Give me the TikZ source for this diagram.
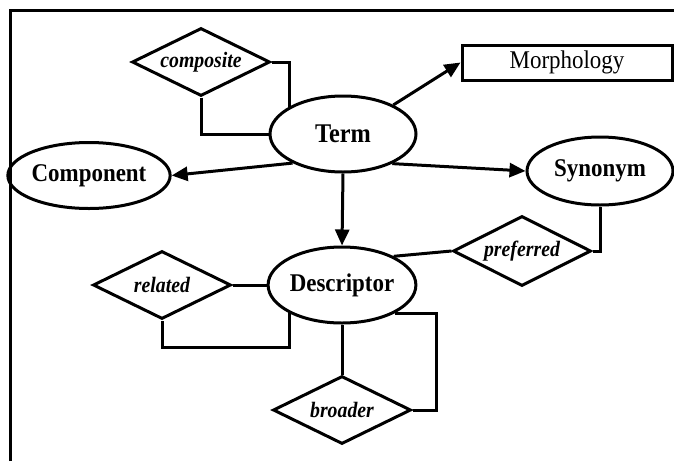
\documentclass[tikz,border=0pt]{standalone}
\usepackage{fontspec}
\setmainfont{Liberation Serif}
\newfontfamily\narrowserif[FakeStretch=0.9]{Liberation Serif}
\usetikzlibrary{shapes.geometric,arrows.meta}
\begin{document}
\begin{tikzpicture}[x=1pt,y=-1pt,line width=3pt,
  entity/.style={draw,ellipse,inner sep=0pt,minimum width=146pt,minimum height=72pt,
    font=\narrowserif\fontsize{25.5}{25.5}\selectfont\bfseries},
  relation/.style={draw,diamond,aspect=2.03,inner sep=0pt,minimum width=138pt,minimum height=68pt,
    font=\narrowserif\fontsize{22}{22}\selectfont\bfseries\itshape},
  plainbox/.style={draw,rectangle,inner sep=0pt,minimum width=210pt,minimum height=35pt,
    font=\narrowserif\fontsize{25.5}{25.5}\selectfont},
  link/.style={line join=miter},
  arr/.style={-{Triangle[length=16pt,width=14pt]}}]
  \useasboundingbox (0,0) rectangle (674,461);
  % open frame along the top and left
  \draw (10,461) -- (10,10) -- (674,10);

  % entities
  \node[entity,minimum height=76pt,font=\narrowserif\fontsize{27}{27}\selectfont\bfseries] (term) at (343,134) {Term};
  \node[entity,minimum height=66pt] (cpt) at (89,175.5) {Component};
  \node[entity,minimum height=68pt] (syn) at (600,171) {Synonym};
  \node[entity,minimum height=76pt] (desc) at (342,285) {Descriptor};
  \node[plainbox] (morph) at (567,62.5) {Morphology};

  % relationships
  \node[relation] (compo) at (201,62) {composite};
  \node[relation] (rel) at (162,285) {related};
  \node[relation] (broad) at (342,410) {broader};
  \node[relation,minimum height=70pt] (pref) at (522,251) {preferred};

  % arrows leaving Term
  \draw[arr] (term.210) -- (cpt.east);
  \draw[arr] (term.329) -- (syn.west);
  \draw[arr] (term.30) -- (morph.west);
  \draw[arr] (term.south) -- (desc.north);

  % composite loop on Term
  \draw[link] (compo.east) -| (term.153);
  \draw[link] (compo.south) |- (term.west);

  % related loop on Descriptor
  \draw[link] (rel.east) -- (desc.west);
  \draw[link] (desc.208) -- ++(0,34) -| (rel.south);

  % broader loop on Descriptor
  \draw[link] (desc.south) -- (broad.north);
  \draw[link] (broad.east) -- ++(24,0) |- (desc.332);

  % preferred between Descriptor and Synonym
  \draw[link] (pref.west) -- (desc.29);
  \draw[link] (pref.east) -| (syn.south);
\end{tikzpicture}
\end{document}
